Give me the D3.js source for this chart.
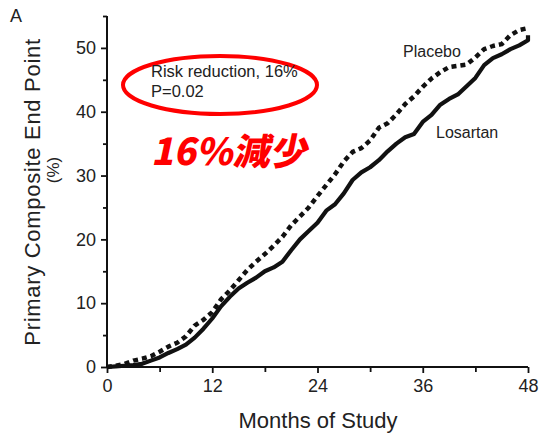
<!DOCTYPE html>
<html>
<head>
<meta charset="utf-8">
<script src="https://cdn.jsdelivr.net/npm/d3@7"></script>
<style>
  html, body { margin: 0; padding: 0; background: #fff; }
  svg { display: block; }
  text { font-family: "Liberation Sans", Arial, Helvetica, sans-serif; fill: #222; }
</style>
</head>
<body>
<svg id="chart" width="539" height="434"></svg>
<script>
// Cumulative incidence of the primary composite end point (%), by month of study
const months = [0,1,2,3,4,5,6,7,8,9,10,11,12,13,14,15,16,17,18,19,20,21,22,23,24,
  25,26,27,28,29,30,31,32,33,34,35,36,37,38,39,40,41,42,43,44,45,46,47,48];
const losartan = [0,0.1,0.2,0.3,0.5,1.0,1.5,2.2,2.8,3.5,4.6,6.0,7.6,9.5,11.0,12.3,13.2,14.0,15.0,15.6,
  16.5,18.3,20.0,21.3,22.6,24.5,25.5,27.2,29.3,30.5,31.3,32.4,33.8,35.0,36.0,36.5,38.4,39.5,
  41.1,42.0,42.7,44.0,45.3,47.3,48.4,49.0,49.8,50.4,51.2];
const placebo = [0,0.2,0.5,1.0,1.3,1.7,2.4,3.2,3.8,4.8,6.5,7.4,8.6,10.6,12.0,13.6,15.2,16.5,17.7,19.0,
  20.4,22.2,23.6,25.0,26.8,28.5,30.2,32.2,33.7,34.3,35.5,37.5,38.2,39.6,41.2,42.4,43.9,45.2,
  46.2,47.0,47.2,47.4,48.5,49.8,50.3,50.6,52.0,52.8,53.1];
// final values at the end of follow-up
const losartanEnd = 52.0;
const placeboEnd = 53.1;

const xMajor = [0, 12, 24, 36, 48];
const xMinor = [6, 18, 30, 42];
const yMajor = [0, 10, 20, 30, 40, 50];
const yMinor = [5, 15, 25, 35, 45, 55];

const svg = d3.select("#chart");
const plotLeft = 107, plotRight = 528, plotTop = 16, plotBottom = 367;

const x = d3.scaleLinear().domain([0, 48]).range([plotLeft, plotRight]);
const y = d3.scaleLinear().domain([0, 55]).range([plotBottom, plotTop]);

// axes
svg.append("g").attr("transform", `translate(${plotLeft},0)`)
  .call(d3.axisLeft(y).tickValues(yMajor).tickSize(6).tickPadding(5));
svg.append("g").attr("transform", `translate(${plotLeft},0)`)
  .call(d3.axisLeft(y).tickValues(yMinor).tickSize(4).tickFormat(""));
svg.append("g").attr("transform", `translate(0,${plotBottom})`)
  .call(d3.axisBottom(x).tickValues(xMajor).tickSize(6).tickPadding(6));
svg.append("g").attr("transform", `translate(0,${plotBottom})`)
  .call(d3.axisBottom(x).tickValues(xMinor).tickSize(5).tickFormat(""));

svg.selectAll(".domain").remove();
// plain axis lines (no end caps)
svg.append("line").attr("x1", plotLeft).attr("x2", plotLeft).attr("y1", y(55)).attr("y2", plotBottom + 1)
  .attr("stroke", "#111").attr("stroke-width", 2);
svg.append("line").attr("x1", plotLeft - 1).attr("x2", plotRight).attr("y1", plotBottom).attr("y2", plotBottom)
  .attr("stroke", "#111").attr("stroke-width", 2);
svg.selectAll(".tick line").attr("stroke", "#111").attr("stroke-width", 1.8);
svg.selectAll(".tick text").style("font-size", "18px").attr("fill", "#222")
  .style("font-family", "'Liberation Sans', Arial, sans-serif");

// curves
const line = d3.line()
  .x(d => x(d[0]))
  .y(d => y(d[1]))
  .curve(d3.curveLinear);

const losPts = months.map((m, i) => [m, losartan[i]]);
losPts.push([48, losartanEnd]);
const plaPts = months.map((m, i) => [m, placebo[i]]);
plaPts.push([48, placeboEnd]);

svg.append("path").datum(plaPts)
  .attr("d", line)
  .attr("fill", "none")
  .attr("stroke", "#111")
  .attr("stroke-width", 4.5)
  .attr("stroke-dasharray", "5,4")
  .attr("stroke-linejoin", "round");

svg.append("path").datum(losPts)
  .attr("d", line)
  .attr("fill", "none")
  .attr("stroke", "#111")
  .attr("stroke-width", 4.2)
  .attr("stroke-linejoin", "round");

// series labels
svg.append("text").attr("x", 403).attr("y", 57).style("font-size", "16px").text("Placebo");
svg.append("text").attr("x", 436).attr("y", 138).style("font-size", "16px").text("Losartan");

// panel letter
svg.append("text").attr("x", 10).attr("y", 22).style("font-size", "18px").text("A");

// axis titles
svg.append("text")
  .attr("text-anchor", "middle")
  .attr("transform", "translate(40,192) rotate(-90)")
  .style("font-size", "22px")
  .style("letter-spacing", "0.7px")
  .text("Primary Composite End Point");
svg.append("text")
  .attr("text-anchor", "middle")
  .attr("transform", "translate(59,170) rotate(-90)")
  .style("font-size", "17px")
  .text("(%)");
svg.append("text")
  .attr("x", 318).attr("y", 428)
  .attr("text-anchor", "middle")
  .style("font-size", "22px")
  .text("Months of Study");

// annotation
svg.append("ellipse")
  .attr("cx", 220).attr("cy", 85).attr("rx", 97).attr("ry", 29)
  .attr("fill", "none").attr("stroke", "#f00").attr("stroke-width", 4);
svg.append("text").attr("x", 151).attr("y", 77).style("font-size", "16.5px").text("Risk reduction, 16%");
svg.append("text").attr("x", 151).attr("y", 97).style("font-size", "16.5px").text("P=0.02");

svg.append("text")
  .attr("transform", "translate(151,165) skewX(-12)")
  .style("font-family", "'Noto Sans CJK JP', 'Noto Sans CJK SC', sans-serif")
  .style("font-weight", "900")
  .style("font-size", "37px")
  .style("fill", "#f00")
  .text("16%減少");
</script>
</body>
</html>
